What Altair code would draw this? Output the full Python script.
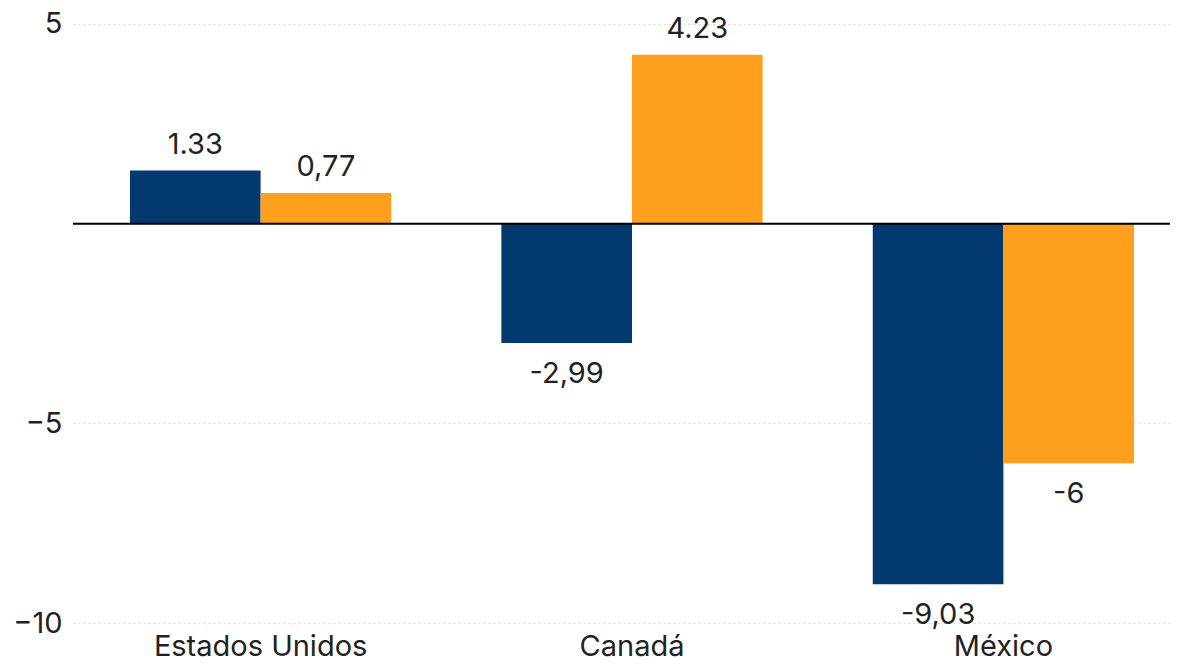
import altair as alt
import pandas as pd

categories = ["Estados Unidos", "Canadá", "México"]
series = ["Serie 1", "Serie 2"]
values_s1 = [1.33, -2.99, -9.03]
values_s2 = [0.77, 4.23, -6.0]
labels_s1 = ["1.33", "-2,99", "-9,03"]
labels_s2 = ["0,77", "4.23", "-6"]
colors = ["#023A70", "#FF9F1E"]

rows = []
for c, v, l in zip(categories, values_s1, labels_s1):
    rows.append({"pais": c, "serie": series[0], "valor": v, "etiqueta": l})
for c, v, l in zip(categories, values_s2, labels_s2):
    rows.append({"pais": c, "serie": series[1], "valor": v, "etiqueta": l})
df = pd.DataFrame(rows)

FONT = "Inter"
TXT = "#222222"

x = alt.X(
    "pais:N",
    sort=categories,
    title=None,
    scale=alt.Scale(paddingInner=0.2965, paddingOuter=0.1251, align=0.613),
    axis=alt.Axis(
        labelAngle=0, labelFontSize=29, labelFont=FONT, labelColor=TXT,
        ticks=False, tickSize=0, domain=False, grid=False, labelPadding=9,
        labelLimit=0,
    ),
)
y = alt.Y(
    "valor:Q",
    title=None,
    scale=alt.Scale(domain=[-10, 5.2], nice=False, zero=False),
    axis=alt.Axis(
        values=[5, -5, -10], labelFontSize=29, labelFont=FONT, labelColor=TXT,
        ticks=False, tickSize=0, domain=False, labelPadding=11,
        grid=True, gridColor="#d6d6d6", gridDash=[2, 3], gridWidth=1,
    ),
)
xoff = alt.XOffset("serie:N", sort=series)
color = alt.Color("serie:N", sort=series, scale=alt.Scale(domain=series, range=colors), legend=None)

base = alt.Chart(df)
bars = base.mark_bar().encode(x=x, y=y, xOffset=xoff, color=color)

pos_text = base.transform_filter("datum.valor >= 0").mark_text(
    baseline="alphabetic", dy=-17, fontSize=29, font=FONT, color=TXT
).encode(x=x, y=y, xOffset=xoff, text="etiqueta:N")

neg_text = base.transform_filter("datum.valor < 0").mark_text(
    baseline="alphabetic", dy=40, fontSize=29, font=FONT, color=TXT
).encode(x=x, y=y, xOffset=xoff, text="etiqueta:N")

zero = alt.Chart(pd.DataFrame({"z": [0]})).mark_rule(color="#000000", strokeWidth=2).encode(
    y=alt.Y("z:Q")
)

chart = alt.layer(bars, zero, pos_text, neg_text).properties(
    width=1097,
    height=607,
    autosize=alt.AutoSizeParams(type="none"),
    padding={"left": 65, "top": 8, "right": 0, "bottom": 40},
).configure_view(stroke=None)

chart.save("out.html", embed_options={"renderer": "svg", "actions": False})
